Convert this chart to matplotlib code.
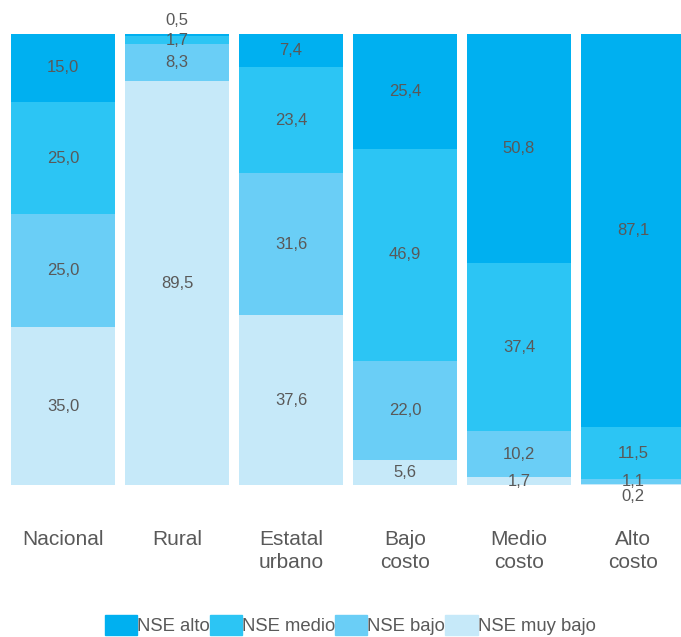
import matplotlib
matplotlib.use("Agg")
import matplotlib.pyplot as plt
import numpy as np

plt.rcParams['font.family'] = ['Liberation Sans', 'DejaVu Sans']

categories = ['Nacional', 'Rural', 'Estatal\nurbano', 'Bajo\ncosto', 'Medio\ncosto', 'Alto\ncosto']
series = ['NSE alto', 'NSE medio', 'NSE bajo', 'NSE muy bajo']
nse_alto = [15.0, 0.5, 7.4, 25.4, 50.8, 87.1]
nse_medio = [25.0, 1.7, 23.4, 46.9, 37.4, 11.5]
nse_bajo = [25.0, 8.3, 31.6, 22.0, 10.2, 1.1]
nse_muy_bajo = [35.0, 89.5, 37.6, 5.6, 1.7, 0.2]
colors = ['#00b0f0', '#2cc5f4', '#6acef6', '#c6e9f9']
grey = '#595959'

fig = plt.figure(figsize=(6.81, 6.37), dpi=100)
ax = fig.add_axes([0, 0.2386, 1, 0.708])

x = np.arange(len(categories))
# stacked from bottom: muy bajo, bajo, medio, alto
stack = [nse_muy_bajo, nse_bajo, nse_medio, nse_alto]
stack_colors = colors[::-1]
bottom = np.zeros(len(categories))
centers = []
for vals, c in zip(stack, stack_colors):
    vals = np.array(vals)
    ax.bar(x, vals, 0.912, bottom=bottom, color=c, linewidth=0)
    centers.append(bottom + vals / 2)
    bottom = bottom + vals

# value labels, centered in each segment
for vals, cy in zip(stack, centers):
    for i, v in enumerate(vals):
        y = cy[i]
        if i == 1 and v == 0.5:
            y = 102.9
        if i == 5 and v == 0.2:
            y = -2.6
        ax.text(x[i], y, f'{v:.1f}'.replace('.', ','), ha='center', va='center',
                fontsize=12, color=grey)

ax.set_xlim(-0.553, 5.421)
ax.set_ylim(0, 100)
ax.axis('off')

for i, lab in enumerate(categories):
    ax.text(x[i], -10.0, lab, ha='center', va='top', fontsize=15, color=grey,
            linespacing=1.28)

handles = [plt.Rectangle((0, 0), 1, 1, color=c) for c in colors]
fig.legend(handles, series, loc='lower center', bbox_to_anchor=(0.514, -0.012),
           ncol=4, frameon=False, fontsize=13.3, handlelength=1.75, handleheight=1.35,
           handletextpad=0.0, columnspacing=0.0, labelcolor=grey, borderpad=0)

fig.savefig('out.png', dpi=100)
